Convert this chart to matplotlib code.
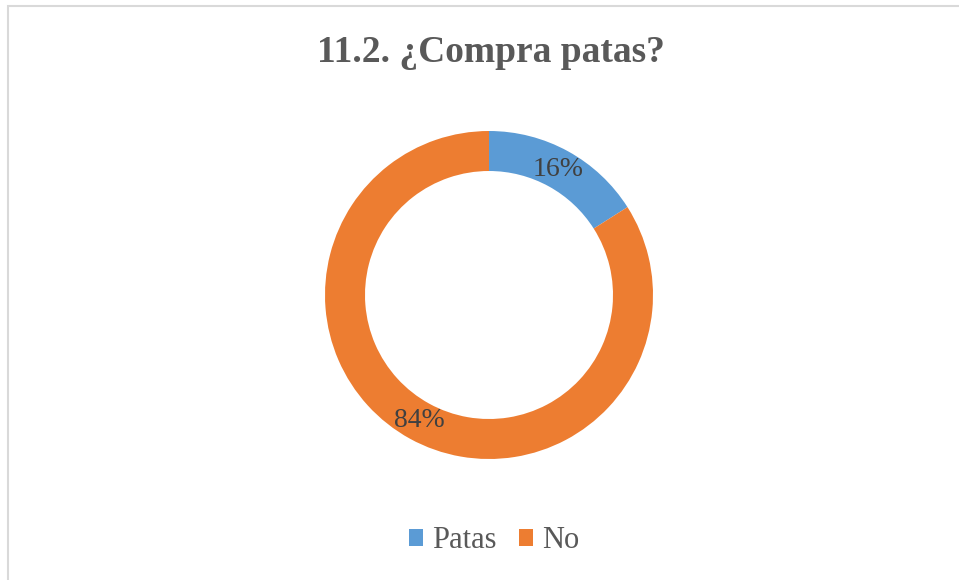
import matplotlib
matplotlib.use("Agg")
import matplotlib.pyplot as plt
from matplotlib.patches import Patch, Rectangle

# data
labels = ["Patas", "No"]
values = [16, 84]
colors = ["#5B9BD5", "#ED7D31"]
title = "11.2. ¿Compra patas?"

plt.rcParams["font.family"] = ["Liberation Serif", "DejaVu Serif"]

W, H = 959, 580
fig = plt.figure(figsize=(W / 100, H / 100), dpi=100)

# light grey chart border (left/top visible, others run off the image)
fig.patches.append(
    Rectangle((8 / W, -0.2), 1.2, 1 - 6 / H + 0.2, transform=fig.transFigure,
              fill=False, edgecolor="#d9d9d9", linewidth=1.5)
)

# donut axes: centre (489, 295), outer radius 164 px
cx, cy, r = 489, 295, 164
ax = fig.add_axes([(cx - r) / W, (H - cy - r) / H, 2 * r / W, 2 * r / H])
wedges, texts, autotexts = ax.pie(
    values, colors=colors, startangle=90, counterclock=False,
    radius=1, autopct="%d%%", pctdistance=0.875,
    wedgeprops=dict(width=40 / 164, linewidth=0),
    textprops=dict(color="#404040", fontsize=20),
)
ax.set_xlim(-1, 1)
ax.set_ylim(-1, 1)
ax.set_aspect("equal")
ax.axis("off")

fig.text(491 / W, 1 - 52 / H, title, ha="center", va="center",
         fontsize=27, fontweight="bold", color="#595959")

handles = [Patch(facecolor=c, edgecolor="none") for c in colors]
fig.legend(handles, labels, loc="center", bbox_to_anchor=(494 / W, 1 - 541 / H),
           ncol=2, frameon=False, fontsize=22, labelcolor="#595959",
           handlelength=0.45, handleheight=0.45, handletextpad=0.3,
           columnspacing=0.75)

fig.savefig("out.png", dpi=100)
